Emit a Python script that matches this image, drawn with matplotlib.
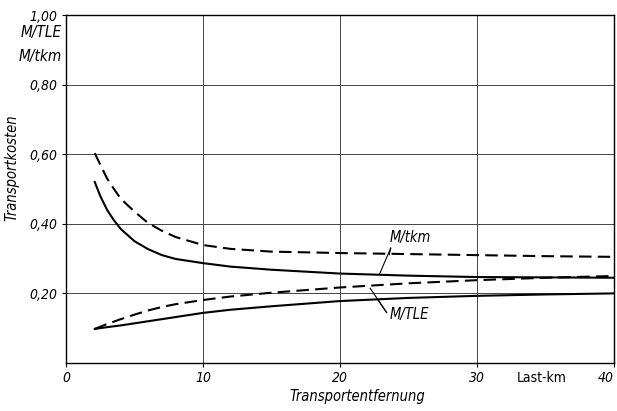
import matplotlib
matplotlib.use('Agg')
import numpy as np
import matplotlib.pyplot as plt

# Transportkosten über Transportentfernung
x_up = [2.1, 2.5, 3, 3.5, 4, 5, 6, 7, 8, 10, 12, 15, 20, 25, 30, 35, 40]
tkm_dash = [0.603, 0.570, 0.530, 0.500, 0.472, 0.435, 0.402, 0.380, 0.362, 0.339,
            0.328, 0.320, 0.316, 0.313, 0.310, 0.307, 0.305]
tkm_solid = [0.520, 0.480, 0.440, 0.410, 0.385, 0.350, 0.327, 0.310, 0.299, 0.287,
             0.277, 0.268, 0.257, 0.251, 0.247, 0.246, 0.245]

x_low = [2.1, 3, 4, 5, 6, 7, 8, 10, 12, 15, 20, 25, 30, 35, 40]
tle_dash = [0.098, 0.112, 0.126, 0.139, 0.151, 0.161, 0.169, 0.181, 0.191, 0.202,
            0.217, 0.229, 0.238, 0.245, 0.250]
tle_solid = [0.098, 0.103, 0.108, 0.114, 0.120, 0.126, 0.132, 0.144, 0.153, 0.163,
             0.178, 0.187, 0.193, 0.197, 0.200]

xticks = [0, 10, 20, 30, 40]
yticks = [0.2, 0.4, 0.6, 0.8, 1.0]
ylabels = ['0,20', '0,40', '0,60', '0,80', '1,00']

fnt = dict(family='DejaVu Sans', style='italic', stretch='condensed')

fig = plt.figure(figsize=(6.17, 4.11), dpi=100)
ax = fig.add_axes([66/617, 1-363/411, 548/617, 348/411])

ax.plot(x_up, tkm_dash, color='black', lw=1.5, ls=(0, (6, 3)))
ax.plot(x_up, tkm_solid, color='black', lw=1.5)
ax.plot(x_low, tle_dash, color='black', lw=1.5, ls=(0, (6, 3)))
ax.plot(x_low, tle_solid, color='black', lw=1.5)

ax.set_xlim(0, 40)
ax.set_ylim(0, 1.0)
ax.set_xticks(xticks)
ax.set_xticklabels([str(t) for t in xticks], fontsize=10, **fnt)
ax.get_xticklabels()[-1].set_ha('right')
ax.set_yticks(yticks)
ax.set_yticklabels(ylabels, fontsize=10, **fnt)
ax.tick_params(length=3, width=0.8, color='black', pad=3)
ax.grid(True, color='#444444', lw=0.7)
for s in ax.spines.values():
    s.set_linewidth(1.0)

ax.set_xlabel('Transportentfernung', fontsize=10.5, labelpad=2, **fnt)
ax.xaxis.set_label_coords(21.3/40, -0.075)
ax.set_ylabel('Transportkosten', fontsize=10.5, **fnt)
ax.yaxis.set_label_coords(-0.085, 0.56)

ax.text(34.7, -0.044, 'Last-km', ha='center', va='center', fontsize=10,
        family='DejaVu Sans', stretch='condensed')
ax.text(-0.3, 0.951, 'M/TLE', ha='right', va='center', fontsize=11, **fnt)
ax.text(-0.3, 0.882, 'M/tkm', ha='right', va='center', fontsize=11, **fnt)

# Beschriftung der Kurven mit Hinweislinien
ax.text(23.6, 0.36, 'M/tkm', ha='left', va='center', fontsize=10.5, **fnt)
ax.plot([23.7, 23.6], [0.33, 0.311], color='black', lw=0.8)
ax.plot([23.7, 22.9], [0.33, 0.257], color='black', lw=0.8)
ax.text(23.6, 0.14, 'M/TLE', ha='left', va='center', fontsize=10.5, **fnt)
ax.plot([23.4, 22.2], [0.145, 0.215], color='black', lw=0.8)
ax.plot([23.4, 22.8], [0.145, 0.18], color='black', lw=0.8)

fig.savefig('out.png', dpi=100)
